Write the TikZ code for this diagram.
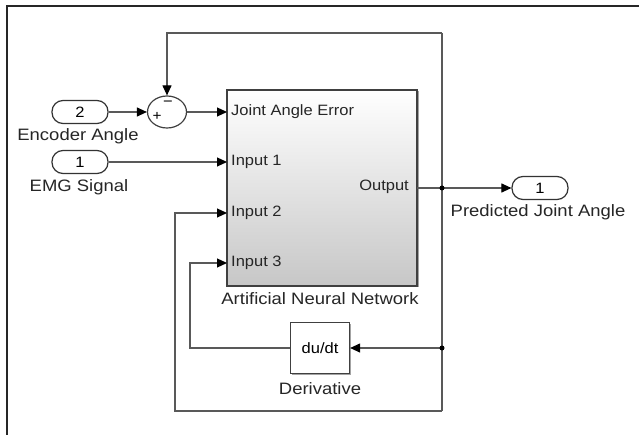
\documentclass[tikz,border=0pt]{standalone}
\usepackage{fontspec}
\setmainfont{Liberation Sans}[FakeStretch=1.1]
\newfontfamily\namefont{Liberation Sans}[FakeStretch=1.12]
\usetikzlibrary{arrows.meta,calc,shadows,shapes.geometric}

\begin{document}
\begin{tikzpicture}[x=1pt,y=-1pt,
  wire/.style={draw=black!65, line width=1.1pt},
  arr/.style={wire, -{Triangle[length=10pt,width=9pt,color=black]}},
  port/.style={draw=black!80, line width=1.2pt, rounded corners=11pt,
    minimum width=56pt, minimum height=23pt, inner sep=0pt,
    font=\fontsize{15}{18}\selectfont},
  lbl/.style={font=\namefont\fontsize{16.5}{19}\selectfont, text=black!85, inner sep=0pt},
  plbl/.style={font=\fontsize{15}{18}\selectfont, text=black!85, inner sep=0pt},
  blk/.style={draw=black!75, line width=1.2pt,
    drop shadow={shadow xshift=1.5pt, shadow yshift=-1.5pt, fill=black!45, opacity=0.8}},
  jdot/.style={circle, fill=black, inner sep=0pt, minimum size=5pt}
]
\useasboundingbox (0,0) rectangle (639,435);
\fill[white] (0,0) rectangle (639,435);

% partial frame
\draw[line width=1.3pt, black!85] (7,435) -- (7,6) -- (639,6);

% inport blocks
\node[port] (enc) at (80,112) {2};
\node[lbl] at (78,136) {Encoder Angle};
\node[port] (emg) at (80,162) {1};
\node[lbl] at (79,187) {EMG Signal};

% sum block
\node[ellipse, draw=black!75, line width=1.2pt, fill=white, inner sep=0pt,
  minimum width=39pt, minimum height=32pt] (sum) at (167,112) {};
\node[inner sep=0pt, font=\fontsize{14}{14}\selectfont] (plus) at (157,116) {+};
\node[inner sep=0pt, font=\fontsize{15}{14}\selectfont] (minus) at (168,104) {\textminus};

% neural network block
\node[blk, minimum width=190pt, minimum height=196pt, inner sep=0pt,
  top color=white, bottom color=black!22] (ann) at (322,188) {};
\node[lbl] at (320,299) {Artificial Neural Network};

\coordinate (pJ) at (227,112);
\coordinate (p1) at (227,162);
\coordinate (p2) at (227,213);
\coordinate (p3) at (227,263);
\coordinate (pO) at (417,188);
\node[plbl, anchor=west] at (231,112) {Joint Angle Error};
\node[plbl, anchor=west] at (231,162) {Input 1};
\node[plbl, anchor=west] at (231,213) {Input 2};
\node[plbl, anchor=west] at (231,263) {Input 3};
\node[plbl, anchor=east] at (409,187) {Output};

% derivative block
\node[blk, fill=white, minimum width=59pt, minimum height=51pt, inner sep=0pt,
  font=\fontsize{15}{18}\selectfont] (deriv) at (320,348) {du/dt};
\node[lbl] at (320,389) {Derivative};

% outport block
\node[port] (out) at (540,188) {1};
\node[lbl] at (538,212) {Predicted Joint Angle};

% routing points
\coordinate (j1) at (442,188);
\coordinate (j2) at (442,348);
\coordinate (tr) at (442,33);
\coordinate (br) at (442,411);
\coordinate (bl) at (175,411);
\coordinate (dl) at (190,348);

% connectors
\draw[arr] (enc.east) -- (sum.west);
\draw[arr] (sum.east) -- (pJ);
\draw[arr] (emg.east) -- (p1);
\draw[arr] (pO) -- (out.west);
\draw[arr] (tr) -| (sum.north);
\draw[wire] (tr) -- (br);
\draw[arr] (j2) -- (deriv.east);
\draw[arr] (deriv.west) -- (dl) |- (p3);
\draw[arr] (br) -- (bl) |- (p2);

\node[jdot] at (j1) {};
\node[jdot] at (j2) {};
\end{tikzpicture}
\end{document}
